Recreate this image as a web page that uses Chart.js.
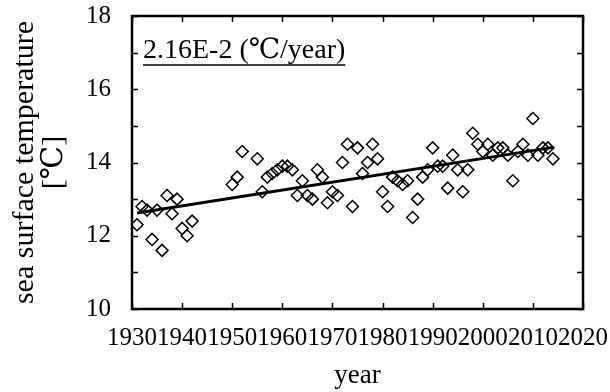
<!DOCTYPE html>
<html>
<head>
<meta charset="utf-8">
<script src="https://cdn.jsdelivr.net/npm/chart.js@4.4.0/dist/chart.umd.min.js"></script>
<style>
  html, body { margin: 0; padding: 0; background: #fff; }
</style>
</head>
<body>
<canvas id="sstChart" width="610" height="392"></canvas>
<script>
// Annual mean sea surface temperature
const years = [
    1931, 1932, 1933, 1934, 1935, 1936, 1937, 1938, 1939, 1940, 1941, 1942,
    1950, 1951, 1952, 1955, 1956, 1957, 1958, 1959, 1960, 1961, 1962, 1963,
    1964, 1965, 1966, 1967, 1968, 1969, 1970, 1971, 1972, 1973, 1974, 1975,
    1976, 1977, 1978, 1979, 1980, 1981, 1982, 1983, 1984, 1985, 1986, 1987,
    1988, 1989, 1990, 1991, 1992, 1993, 1994, 1995, 1996, 1997, 1998, 1999,
    2000, 2001, 2002, 2003, 2004, 2005, 2006, 2007, 2008, 2009, 2010, 2011,
    2012, 2013, 2014
];
const sst = [
    12.3, 12.8, 12.7, 11.9, 12.7, 11.6, 13.1, 12.6, 13.0, 12.2, 12.0, 12.4,
    13.4, 13.6, 14.3, 14.1, 13.2, 13.6, 13.7, 13.8, 13.9, 13.9, 13.8, 13.1,
    13.5, 13.1, 13.0, 13.8, 13.6, 12.9, 13.2, 13.1, 14.0, 14.5, 12.8, 14.4,
    13.7, 14.0, 14.5, 14.1, 13.2, 12.8, 13.6, 13.5, 13.4, 13.5, 12.5, 13.0,
    13.6, 13.8, 14.4, 13.9, 13.9, 13.3, 14.2, 13.8, 13.2, 13.8, 14.8, 14.5,
    14.3, 14.5, 14.2, 14.4, 14.4, 14.2, 13.5, 14.3, 14.5, 14.2, 15.2, 14.2,
    14.4, 14.4, 14.1
];

// Linear trend: 2.16E-2 degC per year
const trendSlope = 0.0216;
const trendYears = [1931, 2014];
const trendBase = 12.62;
const trendValues = trendYears.map(y => trendBase + trendSlope * (y - trendYears[0]));

const xTicks = [1930, 1940, 1950, 1960, 1970, 1980, 1990, 2000, 2010, 2020];
const yTicks = [10, 11, 12, 13, 14, 15, 16, 17, 18];
const yLabels = [10, 12, 14, 16, 18];
const slopeLabel = '2.16E-2 (\u2103/year)';

const serif = "'Liberation Serif', 'Times New Roman', 'DejaVu Serif', serif";

// frame, inward ticks on all four sides and the slope note
const framePlugin = {
    id: 'frame',
    afterDraw(chart) {
        const ctx = chart.ctx;
        const area = chart.chartArea;
        const xs = chart.scales.x;
        const ys = chart.scales.y;
        const tick = 6;
        ctx.save();
        ctx.strokeStyle = '#000';
        ctx.lineWidth = 1.5;
        ctx.beginPath();
        xTicks.forEach(v => {
            const px = Math.round(xs.getPixelForValue(v)) + 0.5;
            ctx.moveTo(px, area.bottom);
            ctx.lineTo(px, area.bottom - tick);
            ctx.moveTo(px, area.top);
            ctx.lineTo(px, area.top + tick);
        });
        yTicks.forEach(v => {
            const py = Math.round(ys.getPixelForValue(v)) + 0.5;
            ctx.moveTo(area.left, py);
            ctx.lineTo(area.left + tick, py);
            ctx.moveTo(area.right, py);
            ctx.lineTo(area.right - tick, py);
        });
        ctx.stroke();

        ctx.lineWidth = 2.5;
        ctx.strokeRect(area.left, area.top, area.right - area.left, area.bottom - area.top);

        ctx.fillStyle = '#000';
        ctx.font = '28px ' + serif;
        ctx.textBaseline = 'alphabetic';
        ctx.textAlign = 'left';
        const tx = area.left + 11;
        const ty = area.top + 42;
        ctx.fillText(slopeLabel, tx, ty);
        const w = ctx.measureText(slopeLabel).width;
        ctx.lineWidth = 1.5;
        ctx.beginPath();
        ctx.moveTo(tx, ty + 7);
        ctx.lineTo(tx + w, ty + 7);
        ctx.stroke();
        ctx.restore();
    }
};

const ctx = document.getElementById('sstChart').getContext('2d');
new Chart(ctx, {
    type: 'scatter',
    data: {
        datasets: [
            {
                label: 'SST',
                data: years.map((y, i) => ({ x: y, y: sst[i] })),
                pointStyle: 'rectRot',
                pointRadius: 6,
                pointBorderWidth: 1.5,
                borderColor: '#000',
                backgroundColor: 'rgba(0,0,0,0)',
            },
            {
                type: 'line',
                label: 'trend',
                data: trendYears.map((y, i) => ({ x: y, y: trendValues[i] })),
                borderColor: '#000',
                borderWidth: 3,
                pointRadius: 0,
                fill: false,
            },
        ],
    },
    options: {
        responsive: false,
        animation: false,
        devicePixelRatio: 1,
        layout: { padding: { top: 16, right: 27, left: 0, bottom: 0 } },
        plugins: {
            legend: { display: false },
            tooltip: { enabled: false },
        },
        scales: {
            x: {
                type: 'linear',
                min: 1930,
                max: 2020,
                afterFit: scale => {
                    scale.height = 83;
                    scale.paddingLeft = 0;
                    scale.paddingRight = 0;
                },
                afterBuildTicks: scale => { scale.ticks = xTicks.map(v => ({ value: v })); },
                grid: { display: false, drawTicks: false },
                border: { display: false },
                ticks: {
                    autoSkip: false,
                    maxRotation: 0,
                    padding: 14,
                    color: '#000',
                    font: { family: serif, size: 25 },
                    callback: v => String(v),
                },
                title: {
                    display: true,
                    text: 'year',
                    color: '#000',
                    font: { family: serif, size: 27, lineHeight: 1 },
                    padding: { top: 0, bottom: 3 },
                },
            },
            y: {
                min: 10,
                max: 18,
                afterFit: scale => {
                    scale.width = 132;
                    scale.paddingTop = 0;
                    scale.paddingBottom = 0;
                },
                afterBuildTicks: scale => { scale.ticks = yLabels.map(v => ({ value: v })); },
                grid: { display: false, drawTicks: false },
                border: { display: false },
                ticks: {
                    padding: 21,
                    color: '#000',
                    font: { family: serif, size: 25 },
                    callback: v => String(v),
                },
                title: {
                    display: true,
                    text: ['sea surface temperature', '[\u2103]'],
                    color: '#000',
                    font: { family: serif, size: 30, lineHeight: 0.95 },
                    padding: { top: 11, bottom: 0 },
                },
            },
        },
    },
    plugins: [framePlugin],
});
</script>
</body>
</html>
